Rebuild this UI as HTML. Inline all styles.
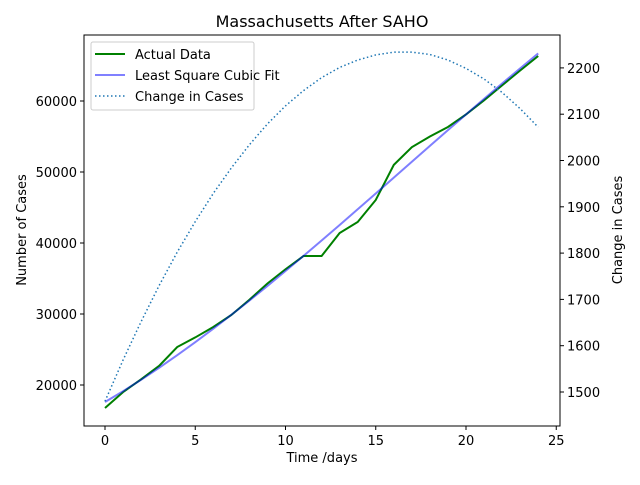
<!DOCTYPE html>
<html><head><meta charset="utf-8"><style>
body{margin:0;background:#fff}
svg text{font-family:"DejaVu Sans","Liberation Sans",sans-serif;fill:#000}
</style></head><body>
<svg id="chart" width="640" height="480">
<text x="322" y="27" font-size="16" text-anchor="middle">Massachusetts After SAHO</text>
<g id="plot"></g>
<rect x="84" y="35" width="476" height="391" fill="none" stroke="#000" stroke-width="1"/>
<text x="322" y="462" font-size="13" text-anchor="middle">Time /days</text>
<text transform="translate(26,230) rotate(-90)" font-size="13" text-anchor="middle">Number of Cases</text>
<text transform="translate(622,230) rotate(-90)" font-size="13" text-anchor="middle">Change in Cases</text>
<g>
<rect x="91" y="42" width="163" height="68" fill="#fff" fill-opacity="0.8" stroke="#ccc" rx="2"/>
<line x1="95" y1="54" x2="125" y2="54" stroke="green" stroke-width="2"/>
<text x="135" y="59" font-size="13">Actual Data</text>
<line x1="95" y1="75" x2="125" y2="75" stroke="#8080ff" stroke-width="2"/>
<text x="135" y="80" font-size="13">Least Square Cubic Fit</text>
<line x1="95" y1="96" x2="125" y2="96" stroke="#1f77b4" stroke-width="1.5" stroke-dasharray="1.5,2.5"/>
<text x="135" y="101" font-size="13">Change in Cases</text>
</g>
</svg>
<script>
const days=[0,1,2,3,4,5,6,7,8,9,10,11,12,13,14,15,16,17,18,19,20,21,22,23,24];
const actual=[16760,19000,20800,22700,25350,26700,28170,29860,32000,34300,36300,38170,38170,41400,42960,46060,51000,53500,55000,56340,58100,60100,62200,64300,66340];
const fit=[17600,19125,20736,22427,24193,26028,27927,29885,31895,33952,36051,38186,40351,42542,44752,46975,49207,51442,53674,55898,58108,60299,62464,64600,66699];
const change=[1480,1569,1652,1730,1802,1868,1929,1984,2034,2079,2118,2151,2179,2201,2217,2228,2234,2234,2229,2217,2199,2176,2147,2112,2072];
const xTicks=[0,5,10,15,20,25];
const yTicks=[20000,30000,40000,50000,60000];
const y2Ticks=[1500,1600,1700,1800,1900,2000,2100,2200];
const NS="http://www.w3.org/2000/svg";
const X=v=>105+v*18.05;
const Y=v=>385-(v-20000)*0.0071;
const Y2=v=>392-(v-1500)*0.463;
const g=document.getElementById('plot');
function mk(t,a){const e=document.createElementNS(NS,t);for(const k in a)e.setAttribute(k,a[k]);g.appendChild(e);return e;}
xTicks.forEach(v=>{
 const l=mk('line',{x1:X(v),x2:X(v),y1:426,y2:430,stroke:'#000'});
 
 
 const t=mk('text',{x:X(v),y:445,'font-size':13,'text-anchor':'middle'});t.textContent=v;
 
 
});
yTicks.forEach(v=>{
 const l=mk('line',{x1:80,x2:84,y1:Y(v),y2:Y(v),stroke:'#000'});
 
 
 const t=mk('text',{x:77,y:Y(v)+5,'font-size':13,'text-anchor':'end'});t.textContent=v;
 
 
});
y2Ticks.forEach(v=>{
 const l=mk('line',{x1:560,x2:564,y1:Y2(v),y2:Y2(v),stroke:'#000'});
 
 
 const t=mk('text',{x:567,y:Y2(v)+5,'font-size':13});t.textContent=v;
 
 
});
function pts(arr,f){return arr.map((v,i)=>X(days[i])+','+f(v)).join(' ');}
const p1=mk('polyline',{points:pts(actual,Y),fill:'none',stroke:'green','stroke-width':2});


const p2=mk('polyline',{points:pts(fit,Y),fill:'none',stroke:'#0000ff','stroke-opacity':0.5,'stroke-width':2});


const p3=mk('polyline',{points:pts(change,Y2),fill:'none',stroke:'#1f77b4','stroke-width':1.5,'stroke-dasharray':'1.5,2.5'});


</script>
</body></html>
